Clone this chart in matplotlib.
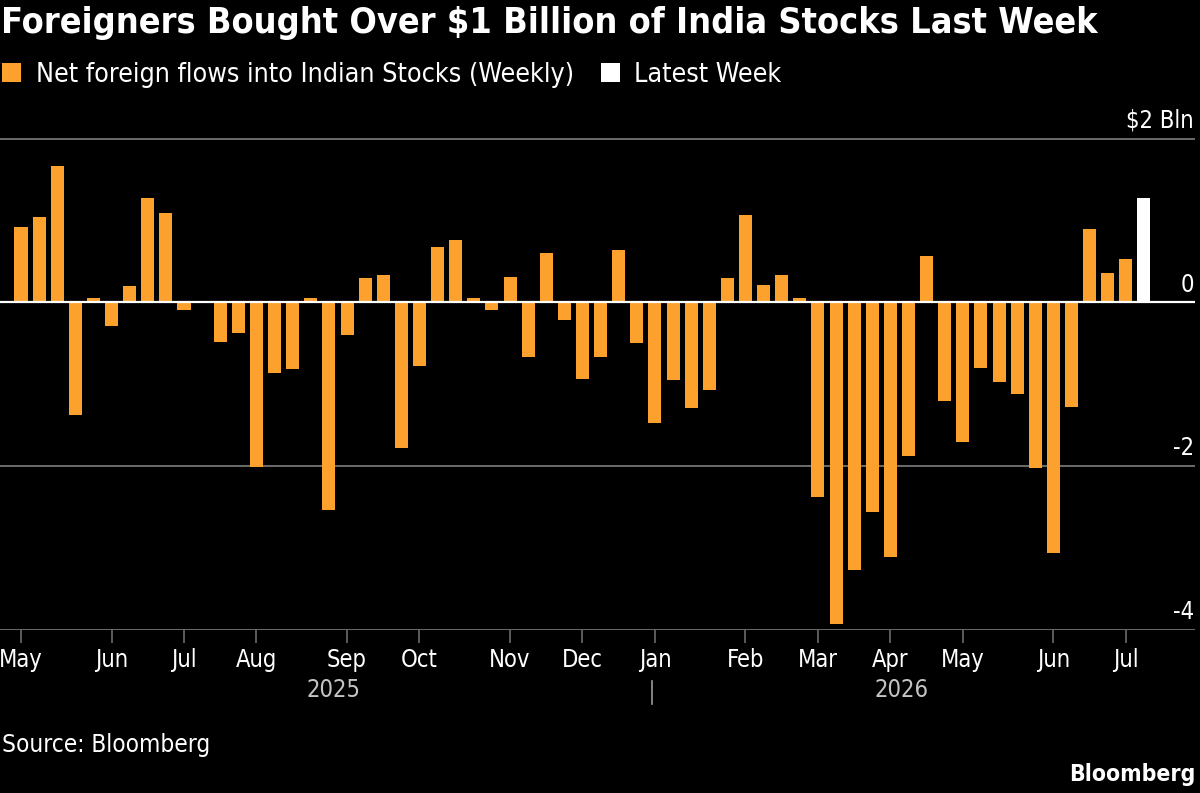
import numpy as np
import pandas as pd
import matplotlib
matplotlib.use("Agg")
import matplotlib.pyplot as plt
from matplotlib.patches import Patch

# ---- data ----
start_week = "2025-05-02"
flows = [0.92, 1.04, 1.67, -1.37, 0.05, -0.29, 0.20, 1.27, 1.09, -0.09,
         0.00, -0.48, -0.37, -2.01, -0.86, -0.81, 0.05, -2.54, -0.40, 0.30,
         0.33, -1.78, -0.77, 0.68, 0.76, 0.05, -0.09, 0.31, -0.67, 0.60,
         -0.21, -0.93, -0.67, 0.64, -0.49, -1.47, -0.95, -1.29, -1.07, 0.30,
         1.07, 0.21, 0.33, 0.05, -2.38, -3.93, -3.27, -2.56, -3.11, -1.87,
         0.57, -1.20, -1.71, -0.80, -0.97, -1.12, -2.02, -3.06, -1.28, 0.90,
         0.36, 0.53, 1.27]
y_ticks = [-4, -2, 0, 2]
y_tick_labels = ["-4", "-2", "0", "$2 Bln"]
title = "Foreigners Bought Over $1 Billion of India Stocks Last Week"
legend_labels = ["Net foreign flows into Indian Stocks (Weekly)", "Latest Week"]
source = "Source: Bloomberg"

dates = pd.date_range(start_week, periods=len(flows), freq="7D")

ORANGE = "#FCA12E"
WHITE = "white"
GRID = "#6b6b6b"
FONT = "DejaVu Sans"
ST = "condensed"

plt.rcParams["font.family"] = [FONT]
plt.rcParams["font.stretch"] = ST

fig = plt.figure(figsize=(12, 7.93), dpi=100, facecolor="black")
ax = fig.add_axes([0, 1 - 630 / 793, 0.996, (630 - 122.3) / 793])
ax.set_facecolor("black")

x = np.arange(len(flows))
colors = [ORANGE] * (len(flows) - 1) + [WHITE]
ax.bar(x, flows, width=0.72, color=colors, zorder=3)

ax.set_xlim(-1.16, 64.83)
ax.set_ylim(-4, 2.2)

# gridlines
for t in y_ticks:
    if t == 0:
        ax.axhline(t, color="white", lw=1.6, zorder=4)
    else:
        ax.axhline(t, color=GRID, lw=1.4, zorder=1)

for s in ax.spines.values():
    s.set_visible(False)

# y labels: right aligned above gridlines
ytr = ax.get_yaxis_transform()
for t, lab in zip(y_ticks, y_tick_labels):
    ax.text(0.999, t + 0.07, lab, transform=ytr, ha="right", va="bottom",
            color="white", fontsize=17, fontstretch=ST)
ax.set_yticks([])

# month ticks at first week of each month
month_idx = []
prev = None
for i, d in enumerate(dates):
    key = (d.year, d.month)
    if key != prev:
        month_idx.append(i)
        prev = key
ax.set_xticks(month_idx)
ax.set_xticklabels([dates[i].strftime("%b") for i in month_idx], fontstretch=ST)
ax.tick_params(axis="x", colors=GRID, length=9, width=1.2, pad=4,
               labelcolor="white", labelsize=17)

# year labels and separator
years = sorted(set(dates.year))
for yr in years:
    idx = [i for i, d in enumerate(dates) if d.year == yr]
    if yr == years[0]:
        left = idx[0] - 0.36
    else:
        left = idx[0] - 1 + (pd.Timestamp(f"{yr}-01-01") - dates[idx[0] - 1]).days / 7
    if yr == years[-1]:
        right = idx[-1] + 0.36
    else:
        right = idx[-1] + (pd.Timestamp(f"{yr + 1}-01-01") - dates[idx[-1]]).days / 7
    ax.text((left + right) / 2, -0.118, str(yr), transform=ax.get_xaxis_transform(),
            ha="center", va="center", color="#c4c4c4", fontsize=17, fontstretch=ST)
    if yr != years[0]:
        ax.plot([left, left], [-0.10, -0.145], transform=ax.get_xaxis_transform(),
                color="#9a9a9a", lw=1.2, clip_on=False)

# title
fig.text(0.001, 0.993, title, ha="left", va="top", color="white",
         fontsize=25.8, fontweight="bold", fontstretch=ST)

# legend
handles = [Patch(facecolor=ORANGE, edgecolor="none"),
           Patch(facecolor=WHITE, edgecolor="none")]
leg = fig.legend(handles, legend_labels, loc="center left",
                 bbox_to_anchor=(0.002, 1 - 75 / 793),
                 ncol=2, frameon=False, handlelength=0.7, handleheight=0.7,
                 handletextpad=0.55, columnspacing=1.0, borderaxespad=0, borderpad=0,
                 prop={"size": 19.3, "stretch": ST})
for t in leg.get_texts():
    t.set_color("white")

fig.text(0.002, 1 - 745 / 793, source, ha="left", va="center", color="white",
         fontsize=17.5, fontstretch=ST)
fig.text(0.996, 1 - 775 / 793, "Bloomberg", ha="right", va="center", color="white",
         fontsize=16.5, fontweight="bold", fontstretch=ST)

fig.savefig("out.png", dpi=100, facecolor="black")
